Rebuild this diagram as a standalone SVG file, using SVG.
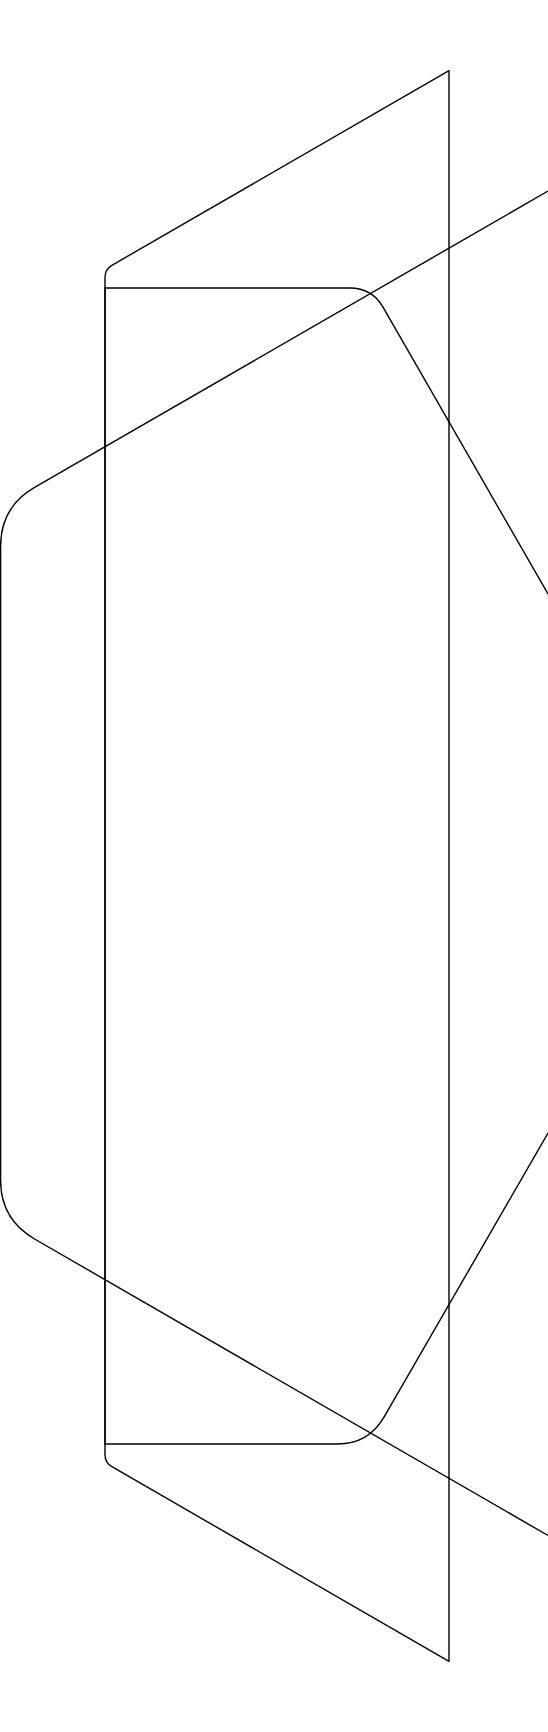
<svg xmlns="http://www.w3.org/2000/svg" width="548" height="1732" viewBox="0 0 548 1732">
<style>
.s{fill:none;stroke:#000;stroke-width:1.4;stroke-linejoin:round}
</style>
<rect width="548" height="1732" fill="#fff"/>
<g id="panel-back" class="s">
<path d="M449,70.7 V1661.3 L111.9,1466.7 Q105,1462.7 105,1454.7 V277.3 Q105,269.3 111.9,265.3 Z"/>
</g>
<g id="panel-front" class="s">
<path d="M548,594 L383,307.05 Q372,288 350,288 H105 V1444 H337.5 Q368.5,1444 384,1417.15 L548,1133.1"/>
</g>
<g id="band" class="s">
<path d="M548,191 L34.6,487.4 Q0,507.4 0.6,547.4 V1179 Q0,1219 34.6,1239 L548,1535.5"/>
</g>
</svg>
